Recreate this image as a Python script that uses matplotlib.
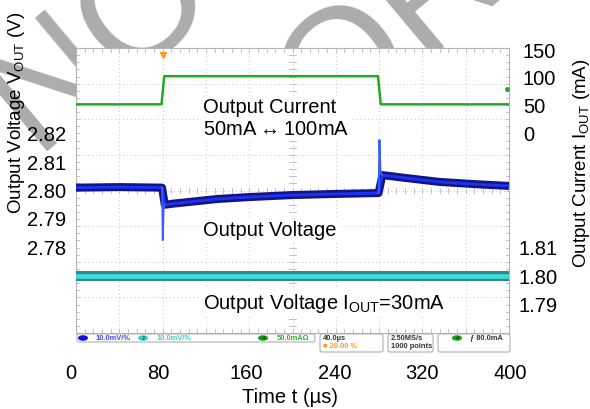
import numpy as np
import matplotlib
matplotlib.use("Agg")
import matplotlib.pyplot as plt
from matplotlib.patches import FancyBboxPatch, Ellipse

plt.rcParams['font.family'] = ['Liberation Sans', 'DejaVu Sans']
plt.rcParams['mathtext.fontset'] = 'custom'
plt.rcParams['mathtext.rm'] = 'Liberation Sans'

# --- data read off the scope shot ---
# load current step (mA) vs time (us)
t_cur = [0, 79, 81.5, 279, 281.5, 400]
i_cur = [52, 52, 103, 103, 52, 52]

# output voltage (V), band centre
t_vout = [0, 40, 79.5, 82, 90, 110, 130, 160, 200, 240, 279.5, 283, 300, 336, 370, 400]
v_vout = [2.8010, 2.8012, 2.8010, 2.7950, 2.7954, 2.7962, 2.7970, 2.7977, 2.7984,
          2.7988, 2.7991, 2.8054, 2.8046, 2.8030, 2.8022, 2.8016]
# undershoot / overshoot spikes
t_spk1 = [79.6, 80.2, 80.9, 82.0]
v_spk1 = [2.8010, 2.7826, 2.7938, 2.7950]
t_spk2 = [279.6, 280.3, 281.3, 283.0]
v_spk2 = [2.7991, 2.8177, 2.8062, 2.8054]

# second channel, Iout = 30mA (flat)
t_v18 = [0, 400]
v_v18 = [1.800, 1.800]

trig_time = 80    # us
trig_level = 80   # mA

x_ticks = [0, 80, 160, 240, 320, 400]
vl_ticks = [2.78, 2.79, 2.80, 2.81, 2.82]
i_ticks = [0, 50, 100, 150]
vr_ticks = [1.79, 1.80, 1.81]

W, H = 590, 409
fig = plt.figure(figsize=(W / 100, H / 100), dpi=100)

# watermark behind everything (two lines, rotated)
wm = dict(rotation=40, rotation_mode='anchor', ha='left', va='baseline',
          fontsize=115, color='#acacac', zorder=-5)
fig.text(37.5 / W, 1 - 159 / H, "NOT RECOMMENDED", **wm)
fig.text(254 / W, 1 - 207 / H, "FOR NEW DESIGN", **wm)

scr = [76 / W, 1 - 333 / H, 433 / W, 285 / H]

# graticule
ax_g = fig.add_axes(scr)
ax_g.set_xlim(0, 10)
ax_g.set_ylim(0, 8)
ax_g.set_xticks([])
ax_g.set_yticks([])
for s in ax_g.spines.values():
    s.set_color('#b4b4b4')
    s.set_linewidth(0.8)
for k in range(1, 10):
    ax_g.axvline(k, color='#c4c4c4', lw=0.7, ls=(0, (1, 3)))
for k in range(1, 8):
    ax_g.axhline(k, color='#c4c4c4', lw=0.7, ls=(0, (1, 3)))
for k in np.arange(0.2, 10, 0.2):
    ax_g.plot([k, k], [3.93, 4.07], color='#b8b8b8', lw=0.6)
    ax_g.plot([k, k], [7.9, 8], color='#b8b8b8', lw=0.6)
    ax_g.plot([k, k], [0, 0.1], color='#b8b8b8', lw=0.6)
for k in np.arange(0.2, 8, 0.2):
    ax_g.plot([4.93, 5.07], [k, k], color='#b8b8b8', lw=0.6)
    ax_g.plot([0, 0.08], [k, k], color='#b8b8b8', lw=0.6)
    ax_g.plot([9.92, 10], [k, k], color='#b8b8b8', lw=0.6)

box = dict(fc='white', ec='none', pad=1.5)
ax_g.text(2.93, 6.33, "Output Current", fontsize=14.5, va='center', bbox=box)
ax_g.text(2.93, 5.70, r"50mA$\leftrightarrow$100mA", fontsize=14.5, va='center', bbox=box)
ax_g.text(2.93, 2.89, "Output Voltage", fontsize=14.5, va='center', bbox=box)
ax_g.text(2.93, 0.82, r"Output Voltage I$_{\mathrm{OUT}}$=30mA", fontsize=14.5,
          va='center', bbox=box)


def overlay(ylim):
    a = fig.add_axes(scr, facecolor='none')
    a.set_xlim(0, 400)
    a.set_ylim(*ylim)
    a.set_xticks([])
    for s in a.spines.values():
        s.set_visible(False)
    a.tick_params(length=0, labelsize=14.5)
    return a


# left: Vout scale
ax_v = overlay((2.75, 2.85))
ax_v.set_yticks(vl_ticks)
ax_v.set_yticklabels([f"{v:.2f}" for v in vl_ticks])
ax_v.tick_params(axis='y', pad=7)
ax_v.plot(t_vout, v_vout, color='#14148a', lw=5.8, solid_capstyle='butt')
ax_v.plot(t_vout, v_vout, color='#1e32f0', lw=2.0)
ax_v.plot(t_spk1, v_spk1, color='#3a5cff', lw=1.4)
ax_v.plot(t_spk2, v_spk2, color='#3a5cff', lw=1.4)
ax_v.plot([trig_time], [0.975], transform=ax_v.get_xaxis_transform(), marker='v',
          ms=5, color='#ff9a1a', clip_on=False)

# right: current scale
ax_i = overlay((-362, 154))
ax_i.yaxis.tick_right()
ax_i.set_yticks(i_ticks)
ax_i.tick_params(axis='y', pad=10)
ax_i.plot(t_cur, i_cur, color='#22aa22', lw=1.8)
ax_i.plot([398], [trig_level], 'o', ms=2.5, color='#22aa22')

# right: 1.8V channel scale
ax_r = overlay((1.78, 1.88))
ax_r.yaxis.tick_right()
ax_r.set_yticks(vr_ticks)
ax_r.set_yticklabels([f"{v:.2f}" for v in vr_ticks])
ax_r.tick_params(axis='y', pad=6.5)
ax_r.plot(t_v18, v_v18, color='#2c8c8a', lw=7.2, solid_capstyle='butt')
ax_r.plot(t_v18, v_v18, color='#3fdada', lw=3.4)

# time axis labels
ax_x = fig.add_axes([71 / W, 1 - 333 / H, 439 / W, 285 / H], facecolor='none')
ax_x.set_xlim(0, 400)
ax_x.set_xticks(x_ticks)
ax_x.set_yticks([])
for s in ax_x.spines.values():
    s.set_visible(False)
ax_x.tick_params(length=0, labelsize=14.5, pad=22)
ax_x.set_xlabel("Time t (\u00b5s)", fontsize=14.5, labelpad=4)
ax_x.set_zorder(-1)

fig.text(17 / W, 1 - 113 / H, r"Output Voltage V$_{\mathrm{OUT}}$ (V)", rotation=90,
         fontsize=13.5, ha='center', va='center')
fig.text(582 / W, 1 - 163 / H, r"Output Current I$_{\mathrm{OUT}}$ (mA)", rotation=90,
         fontsize=13.5, ha='center', va='center')

# scope status bar
sb = fig.add_axes([76 / W, 1 - 353 / H, 435 / W, 20 / H], facecolor='none')
sb.set_xlim(76, 511)
sb.set_ylim(353, 333)
sb.axis('off')
for x0, x1, y0, y1 in [(77, 315, 334, 342), (320, 383, 334, 352),
                       (388, 433, 334, 352), (438, 510, 334, 352)]:
    sb.add_patch(FancyBboxPatch((x0, y0), x1 - x0, y1 - y0,
                                boxstyle='round,pad=0,rounding_size=2',
                                fc='white', ec='#b0b0b0', lw=0.8))
for cx, col, lab in [(83, '#1010e0', '1'), (143, '#30d0d0', '2'),
                     (263, '#10a010', '4'), (457, '#10a010', '4')]:
    sb.add_patch(Ellipse((cx, 338), 10, 5.5, fc=col, ec='none'))
    sb.text(cx, 338.3, lab, fontsize=4, ha='center', va='center', color='#003300')
fs = 5.4
sb.text(96, 338.3, "10.0mV/%", fontsize=fs, color='#4848ff', va='center', weight='bold')
sb.text(157, 338.3, "10.0mV/%", fontsize=fs, color='#40d0d0', va='center', weight='bold')
sb.text(277, 338.3, "50.0mA\u03a9", fontsize=fs, color='#30b030', va='center', weight='bold')
sb.text(323, 338.3, "40.0\u00b5s", fontsize=fs, color='#333333', va='center', weight='bold')
sb.text(323, 347, "\u25a0 20.00 %", fontsize=fs, color='#ff9a1a', va='center', weight='bold')
sb.text(391, 338.3, "2.50MS/s", fontsize=fs, color='#333333', va='center', weight='bold')
sb.text(391, 347, "1000 points", fontsize=fs, color='#333333', va='center', weight='bold')
sb.text(470, 338.3, "\u0192 80.0mA", fontsize=fs, color='#333333', va='center', weight='bold')

fig.savefig("out.png", dpi=100)
